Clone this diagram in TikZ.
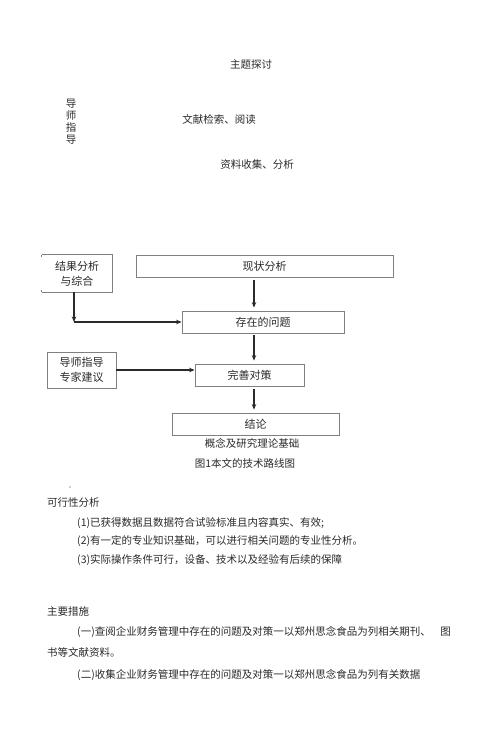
\documentclass[tikz,border=0pt]{standalone}
\usepackage{fontspec}
\setmainfont{Noto Sans CJK SC}
\usetikzlibrary{arrows.meta,calc}
\definecolor{ink}{HTML}{2A2A2A}
\definecolor{edge}{HTML}{808080}
\begin{document}
\begin{tikzpicture}[x=1pt,y=-1pt,
  txt/.style={inner sep=0pt,text=ink,font=\fontsize{10.5}{13}\selectfont},
  boxnode/.style={draw=edge,line width=0.8pt,inner sep=0pt,text=ink,
     font=\fontsize{11}{15}\selectfont,align=center},
  arr/.style={draw=ink,line width=1.1pt,-{Stealth[length=5.5pt,width=4.5pt]}}]
\useasboundingbox (0,0) rectangle (500,747);
\fill[white] (0,0) rectangle (500,747);
% top texts
\node[txt] (t1) at (251,64) {主题探讨};
\node[txt,align=center,font=\fontsize{10.5}{11.8}\selectfont] (t2) at (71,121.5) {导\\师\\指\\导};
\node[txt] (t3) at (219,119) {文献检索、阅读};
\node[txt] (t4) at (257,165) {资料收集、分析};
% boxes
\node[boxnode,draw=none,minimum width=70pt,minimum height=37pt] (res) at (77,273.5) {结果分析\\与综合};
\draw[edge,line width=0.8pt] (res.north west) -- (res.north east) -- (res.south east) -- (res.south west);
\draw[edge,line width=0.8pt] (res.north west) -- ++(0,2.5);
\draw[edge,line width=0.8pt] (res.south west) -- ++(0,-2.5);
\node[boxnode,minimum width=257pt,minimum height=22pt] (cur) at (264.5,266) {现状分析};
\node[boxnode,minimum width=162pt,minimum height=22pt] (prob) at (263,322) {存在的问题};
\node[boxnode,minimum width=69pt,minimum height=36pt] (tut) at (81.5,370) {导师指导\\专家建议};
\node[boxnode,minimum width=109pt,minimum height=22pt] (imp) at (249.5,375) {完善对策};
\node[boxnode,minimum width=167pt,minimum height=22pt] (con) at (255.5,424) {结论};
\coordinate (ax) at (254,0);
\coordinate (c1) at (74,0);
\draw[arr,shorten <=3pt,shorten >=3pt] (cur.south -| ax) -- (prob.north -| ax);
\draw[arr,shorten <=2pt,shorten >=3pt] (prob.south -| ax) -- (imp.north -| ax);
\draw[arr,shorten <=3pt,shorten >=3pt] (imp.south -| ax) -- (con.north -| ax);
\draw[arr] (res.south -| c1) -- (c1 |- prob.west);
\draw[arr] (c1 |- prob.west) -- (prob.west);
\draw[arr] (tut.east) -- (tut.east -| imp.west);
\node[txt] (cap1) at (252,443) {概念及研究理论基础};
\node[txt] (cap2) at (245,463) {图1本文的技术路线图};
% lower text
\fill[ink] (70,487) circle (0.6);
\node[txt,anchor=west] (f0) at (47,503) {可行性分析};
\node[txt,anchor=west] (f1) at (77,523) {(1)已获得数据且数据符合试验标准且内容真实、有效;};
\node[txt,anchor=west] (f2) at (77,541) {(2)有一定的专业知识基础，可以进行相关问题的专业性分析。};
\node[txt,anchor=west] (f3) at (77,560) {(3)实际操作条件可行，设备、技术以及经验有后续的保障};
\node[txt,anchor=west] (m0) at (47,611) {主要措施};
\node[txt,anchor=west] (m1) at (77,632) {(一)查阅企业财务管理中存在的问题及对策一以郑州思念食品为列相关期刊、};
\node[txt,anchor=east] (m1b) at (451,632) {图};
\node[txt,anchor=west] (m2) at (47,652) {书等文献资料。};
\node[txt,anchor=west] (m3) at (77,675) {(二)收集企业财务管理中存在的问题及对策一以郑州思念食品为列有关数据};
\end{tikzpicture}
\end{document}
